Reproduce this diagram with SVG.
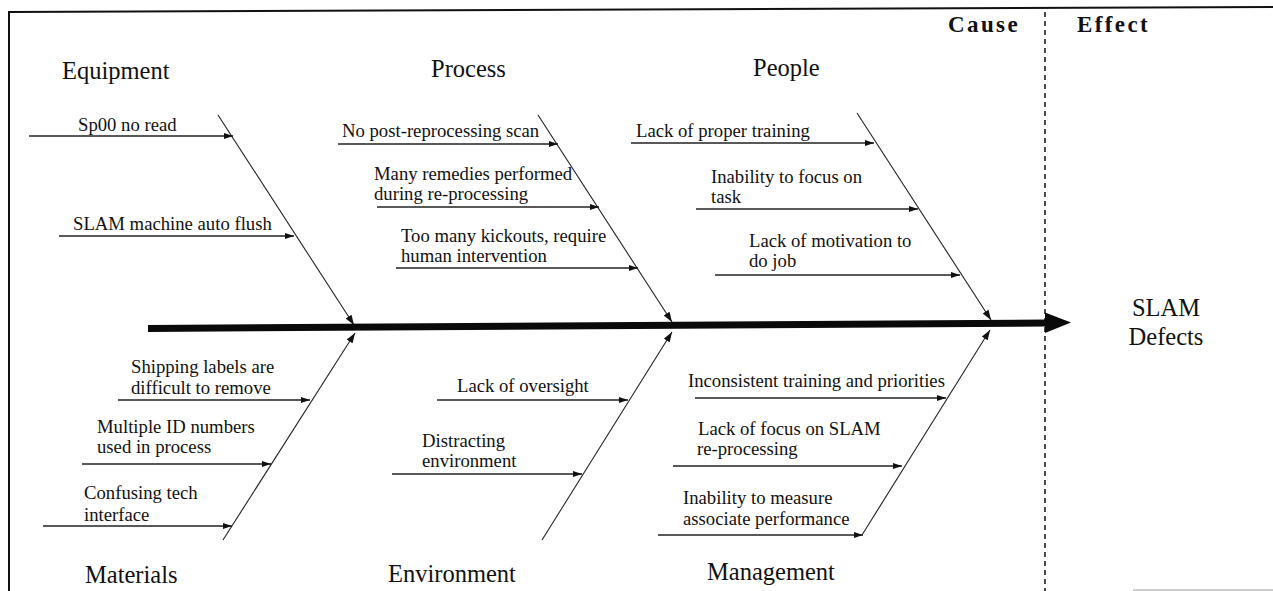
<svg xmlns="http://www.w3.org/2000/svg" width="1273" height="591" viewBox="0 0 1273 591">
  <style>
    .frame { stroke: #111; stroke-width: 2; fill: none; }
    .divider { stroke: #111; stroke-width: 1.5; stroke-dasharray: 5 4; fill: none; }
    .spine { stroke: #0a0a0a; stroke-width: 7; fill: none; }
    .bone { stroke: #222; stroke-width: 1.1; fill: none; marker-end: url(#boneHead); }
    .rib { stroke: #222; stroke-width: 1.3; fill: none; marker-end: url(#ribHead); }
    .cat { font-family: "Liberation Serif", "Times New Roman", serif; font-size: 24.5px; fill: #111; }
    .item { font-family: "Liberation Serif", "Times New Roman", serif; font-size: 18.7px; fill: #111; }
    .head { font-family: "Liberation Serif", "Times New Roman", serif; font-size: 23px; font-weight: bold; letter-spacing: 2.4px; fill: #111; }
    .effect { font-family: "Liberation Serif", "Times New Roman", serif; font-size: 24.5px; fill: #111; text-anchor: middle; }
  </style>
  <defs>
    <marker id="ribHead" viewBox="0 0 9 6" refX="9" refY="3" markerWidth="9" markerHeight="6" markerUnits="userSpaceOnUse" orient="auto">
      <path d="M0,0 L9,3 L0,6 z" fill="#111"/>
    </marker>
    <marker id="boneHead" viewBox="0 0 10 7" refX="10" refY="3.5" markerWidth="10" markerHeight="7" markerUnits="userSpaceOnUse" orient="auto">
      <path d="M0,0 L10,3.5 L0,7 z" fill="#111"/>
    </marker>
  </defs>

  <rect width="1273" height="591" fill="#fff"/>

  <!-- outer frame (top and left edges) and cause/effect divider -->
  <g id="frame">
    <line class="frame" x1="9" y1="12" x2="1273" y2="7"/>
    <line class="frame" x1="9" y1="11" x2="9" y2="591"/>
    <line class="divider" x1="1045" y1="12" x2="1045" y2="591"/>
    <line x1="1133" y1="590" x2="1273" y2="590" stroke="#bbb" stroke-width="1.5"/>
  </g>

  <g id="connectors">
    <!-- main spine -->
    <line class="spine" x1="148" y1="328.5" x2="1047" y2="323"/>
    <polygon points="1045,312.5 1071,322.5 1045,333" fill="#0a0a0a"/>

    <!-- category bones -->
    <line class="bone" x1="218" y1="115" x2="354" y2="325"/>
    <line class="bone" x1="538" y1="115" x2="672" y2="322"/>
    <line class="bone" x1="857" y1="113" x2="991" y2="320"/>
    <line class="bone" x1="223" y1="540" x2="355" y2="333"/>
    <line class="bone" x1="542" y1="540" x2="672" y2="332"/>
    <line class="bone" x1="862" y1="535" x2="990" y2="330"/>

    <!-- Equipment ribs -->
    <line class="rib" x1="29" y1="136" x2="233" y2="136"/>
    <line class="rib" x1="59" y1="236" x2="294" y2="236"/>
    <!-- Process ribs -->
    <line class="rib" x1="338" y1="144" x2="558" y2="144"/>
    <line class="rib" x1="377" y1="207" x2="599" y2="207"/>
    <line class="rib" x1="396" y1="268" x2="638" y2="268"/>
    <!-- People ribs -->
    <line class="rib" x1="631" y1="143" x2="874" y2="143"/>
    <line class="rib" x1="696" y1="209" x2="918" y2="209"/>
    <line class="rib" x1="715" y1="275" x2="960" y2="275"/>
    <!-- Materials ribs -->
    <line class="rib" x1="118" y1="400" x2="310" y2="400"/>
    <line class="rib" x1="82" y1="464" x2="271" y2="464"/>
    <line class="rib" x1="43" y1="526" x2="232" y2="526"/>
    <!-- Environment ribs -->
    <line class="rib" x1="437" y1="400" x2="628" y2="400"/>
    <line class="rib" x1="392" y1="474" x2="582" y2="474"/>
    <!-- Management ribs -->
    <line class="rib" x1="695" y1="398" x2="946" y2="398"/>
    <line class="rib" x1="673" y1="466" x2="902" y2="466"/>
    <line class="rib" x1="658" y1="535" x2="863" y2="535"/>
  </g>

  <g id="header-cause"><text class="head" x="948" y="32">Cause</text></g>
  <g id="header-effect"><text class="head" x="1077" y="32">Effect</text></g>

  <g id="equipment">
    <text class="cat" x="62" y="79">Equipment</text>
    <text class="item" x="78" y="131">Sp00 no read</text>
    <text class="item" x="73" y="230">SLAM machine auto flush</text>
  </g>

  <g id="process">
    <text class="cat" x="431" y="77">Process</text>
    <text class="item" x="342" y="137">No post-reprocessing scan</text>
    <text class="item" x="374" y="180">Many remedies performed</text>
    <text class="item" x="374" y="200">during re-processing</text>
    <text class="item" x="401" y="242">Too many kickouts, require</text>
    <text class="item" x="401" y="262">human intervention</text>
  </g>

  <g id="people">
    <text class="cat" x="753" y="76">People</text>
    <text class="item" x="636" y="137">Lack of proper training</text>
    <text class="item" x="711" y="183">Inability to focus on</text>
    <text class="item" x="711" y="203">task</text>
    <text class="item" x="749" y="247">Lack of motivation to</text>
    <text class="item" x="749" y="267">do job</text>
  </g>

  <g id="materials">
    <text class="cat" x="85" y="583">Materials</text>
    <text class="item" x="131" y="373">Shipping labels are</text>
    <text class="item" x="131" y="394">difficult to remove</text>
    <text class="item" x="97" y="433">Multiple ID numbers</text>
    <text class="item" x="97" y="453">used in process</text>
    <text class="item" x="84" y="499">Confusing tech</text>
    <text class="item" x="84" y="521">interface</text>
  </g>

  <g id="environment">
    <text class="cat" x="388" y="582">Environment</text>
    <text class="item" x="457" y="392">Lack of oversight</text>
    <text class="item" x="422" y="447">Distracting</text>
    <text class="item" x="422" y="467">environment</text>
  </g>

  <g id="management">
    <text class="cat" x="707" y="580">Management</text>
    <text class="item" x="688" y="387">Inconsistent training and priorities</text>
    <text class="item" x="698" y="435">Lack of focus on SLAM</text>
    <text class="item" x="697" y="455">re-processing</text>
    <text class="item" x="683" y="504">Inability to measure</text>
    <text class="item" x="683" y="525">associate performance</text>
  </g>

  <g id="effect">
    <text class="effect" x="1166" y="316">SLAM</text>
    <text class="effect" x="1166" y="345">Defects</text>
  </g>
</svg>
